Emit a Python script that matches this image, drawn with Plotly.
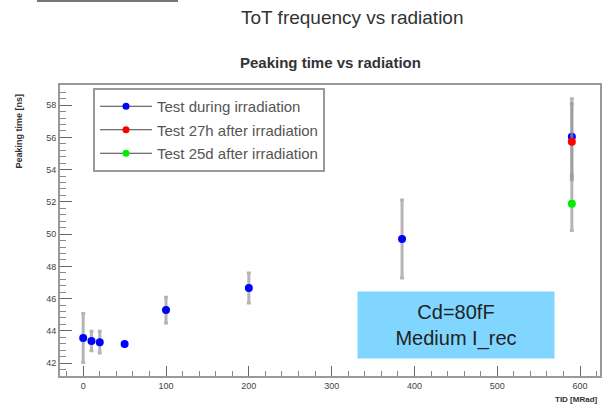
import plotly.graph_objects as go

# Peaking time measurements vs total ionising dose
tid_during = [0, 10, 20, 50, 100, 200, 385, 590]
peak_during = [43.55, 43.37, 43.3, 43.18, 45.29, 46.66, 49.7, 56.04]
err_during = [1.52, 0.6, 0.68, 0.1, 0.8, 0.93, 2.42, 2.36]

tid_27h = [590]
peak_27h = [55.73]
err_27h = [2.36]

tid_25d = [590]
peak_25d = [51.88]
err_25d = [1.65]

series_names = ["Test during irradiation", "Test 27h after irradiation", "Test 25d after irradiation"]
series_colors = ["#0000ff", "#ff0000", "#00ee00"]

x_ticks = [0, 100, 200, 300, 400, 500, 600]
y_ticks = [42, 44, 46, 48, 50, 52, 54, 56, 58]

W, H = 615, 411
ML, MR, MT, MB = 60, 15, 85, 35

def px_x(p):
    return (p - ML) / (W - ML - MR)

def px_y(p):
    return (H - MB - p) / (H - MT - MB)

fig = go.Figure()

data_sets = [
    (tid_during, peak_during, err_during),
    (tid_27h, peak_27h, err_27h),
    (tid_25d, peak_25d, err_25d),
]

for (xs, ys, es), name, col in zip(data_sets, series_names, series_colors):
    fig.add_trace(go.Scatter(
        x=xs, y=ys, mode="markers", showlegend=False,
        marker=dict(color=col, size=8, symbol="circle"),
        error_y=dict(type="data", array=es, visible=True,
                     color="rgba(150,150,150,0.7)", thickness=3, width=2),
    ))

for i, (name, col) in enumerate(zip(series_names, series_colors)):
    fig.add_trace(go.Scatter(
        x=[None], y=[None], mode="lines+markers", name=name,
        legendgroup=f"g{i}",
        line=dict(color="#444", width=1),
        marker=dict(color=col, size=7),
    ))

axis_font = dict(family="Liberation Sans, Arial, sans-serif", size=9, color="#444")

fig.update_xaxes(
    range=[-28, 624], tickvals=x_ticks, ticks="inside", ticklen=10,
    tickcolor="#666", tickfont=axis_font, showgrid=False, zeroline=False,
    showline=True, linecolor="#999", linewidth=2, mirror=True,
    minor=dict(ticks="inside", ticklen=5, dtick=20, tickcolor="#888"),
)
fig.update_yaxes(
    range=[41.2, 59.25], tickvals=y_ticks, ticks="inside", ticklen=12,
    tickcolor="#666", tickfont=axis_font, showgrid=False, zeroline=False,
    showline=True, linecolor="#999", linewidth=2, mirror=True,
    minor=dict(ticks="inside", ticklen=6, dtick=0.4, tickcolor="#888"),
)

fig.update_layout(
    width=W, height=H,
    margin=dict(l=ML, r=MR, t=MT, b=MB),
    paper_bgcolor="white", plot_bgcolor="white",
    font=dict(family="Liberation Sans, Arial, sans-serif"),
    showlegend=True,
    legend=dict(
        x=px_x(93), y=px_y(88), xanchor="left", yanchor="top",
        bgcolor="white", bordercolor="#999", borderwidth=2,
        font=dict(size=15, color="#555"), tracegroupgap=1,
        itemwidth=52,
    ),
    annotations=[
        dict(text="ToT frequency vs radiation", xref="paper", yref="paper",
             x=px_x(352), y=px_y(18), xanchor="center", yanchor="middle",
             showarrow=False, font=dict(size=19, color="#333")),
        dict(text="<b>Peaking time vs radiation</b>", xref="paper", yref="paper",
             x=px_x(330), y=px_y(62), xanchor="center", yanchor="middle",
             showarrow=False, font=dict(size=15, color="#333")),
        dict(text="<b>Peaking time [ns]</b>", xref="paper", yref="paper",
             x=px_x(18), y=px_y(92), xanchor="center", yanchor="top",
             textangle=-90, showarrow=False,
             font=dict(size=9, color="#333")),
        dict(text="<b>TID [MRad]</b>", xref="paper", yref="paper",
             x=px_x(600), y=px_y(399), xanchor="right", yanchor="middle",
             showarrow=False, font=dict(size=8, color="#333")),
        dict(text="Cd=80fF<br>Medium I_rec", xref="paper", yref="paper",
             x=px_x(455.5), y=px_y(325), xanchor="center", yanchor="middle",
             width=190, height=60, bgcolor="#80d6ff", borderpad=3,
             showarrow=False, font=dict(size=20, color="#222")),
    ],
    shapes=[
        dict(type="rect", xref="paper", yref="paper",
             x0=px_x(37), x1=px_x(178), y0=px_y(2), y1=px_y(0),
             fillcolor="#777", line=dict(width=0)),
    ],
)

fig.write_html("out.html")
